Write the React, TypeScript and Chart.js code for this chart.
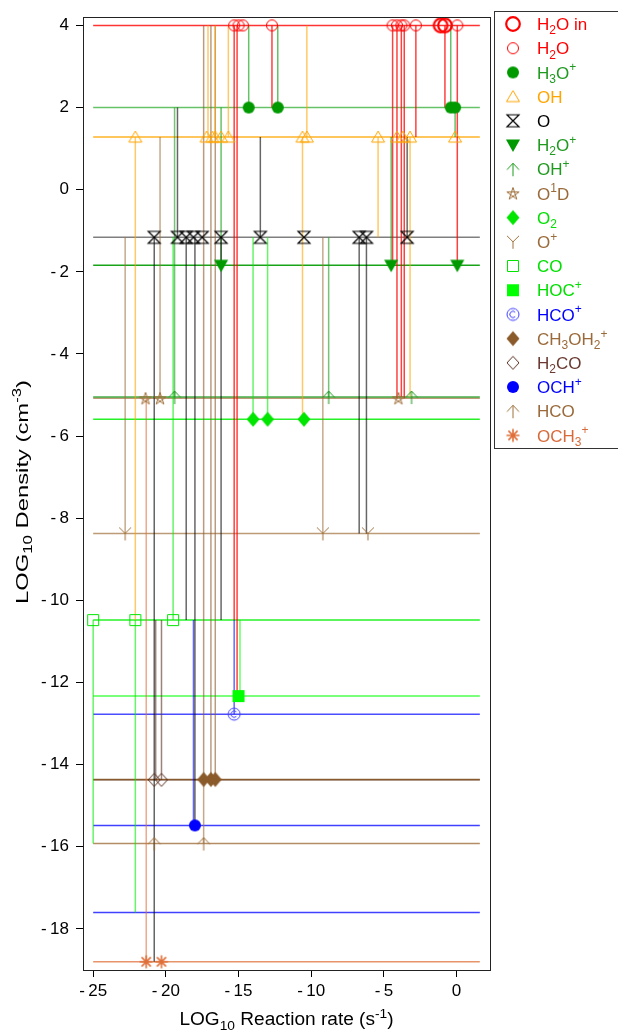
import React, { useEffect, useRef } from 'react';
import { Chart, registerables } from 'chart.js';
Chart.register(...registerables);

// ---------------- data ----------------
const speciesKeys = ['H2O in', 'H2O', 'H3O+', 'OH', 'O', 'H2O+', 'OH+', 'O1D', 'O2', 'O+', 'CO', 'HOC+', 'HCO+', 'CH3OH2+', 'H2CO', 'OCH+', 'HCO', 'OCH3+'];
const speciesLabels = ['H_2O in', 'H_2O', 'H_3O^+', 'OH', 'O', 'H_2O^+', 'OH^+', 'O^1D', 'O_2', 'O^+', 'CO', 'HOC^+', 'HCO^+', 'CH_3OH_2^+', 'H_2CO', 'OCH^+', 'HCO', 'OCH_3^+'];
const densityLevels = [4.0, 4.0, 2.0, 1.28, -1.16, -1.84, -5.05, -5.08, -5.59, -8.37, -10.48, -12.33, -12.77, -14.36, -14.37, -15.48, -15.92, -18.8];
const extraLevel = -17.6;
const rateSpan = [-25, 1.6];
const xTickValues = [-25, -20, -15, -10, -5, 0];
const yTickValues = [4, 2, 0, -2, -4, -6, -8, -10, -12, -14, -16, -18];

const ratesH2Oin = [-1.1, -0.8];
const ratesH2O = [-15.3, -15.0, -14.7, -12.7, -4.4, -4.1, -3.8, -3.6, -2.8, 0.05];
const ratesH3Op = [-14.3, -12.3, -0.4, -0.1];
const ratesOH = [-22.1, -17.2, -16.8, -16.6, -16.2, -15.7, -10.6, -10.3, -5.4, -4.1, -3.7, -3.2, -0.1];
const ratesO = [-20.8, -19.2, -18.6, -18.1, -17.5, -16.2, -13.5, -10.5, -6.7, -6.2, -3.4];
const ratesH2Op = [-16.2, -4.5, 0.05];
const ratesOHp = [-19.4, -8.8, -3.1];
const ratesO1D = [-21.4, -20.4, -4.0];
const ratesO2 = [-14.0, -13.0, -10.5];
const ratesOp = [-22.8, -9.2, -6.1];
const ratesCO = [-25.0, -22.1, -19.5];
const ratesHOCp = [-15.0];
const ratesHCOp = [-15.3];
const ratesCH3OH2p = [-17.4, -16.9, -16.6];
const ratesH2CO = [-20.8, -20.3];
const ratesOCHp = [-18.0];
const ratesHCO = [-20.8, -17.4];
const ratesOCH3p = [-21.35, -20.3];

const markerRates = [ratesH2Oin, ratesH2O, ratesH3Op, ratesOH, ratesO, ratesH2Op, ratesOHp, ratesO1D, ratesO2, ratesOp, ratesCO, ratesHOCp, ratesHCOp, ratesCH3OH2p, ratesH2CO, ratesOCHp, ratesHCO, ratesOCH3p];

const linkFrom = [
  'H2O in',
  'H2O', 'H2O', 'H2O', 'H2O', 'H2O', 'H2O', 'H2O', 'H2O', 'H2O',
  'H3O+', 'H3O+', 'H3O+', 'H3O+',
  'OH', 'OH', 'OH', 'OH', 'OH', 'OH', 'OH', 'OH',
  'O', 'O', 'O', 'O', 'O', 'O', 'O', 'O', 'O',
  'H2O+', 'H2O+',
  'OH+', 'OH+',
  'O1D',
  'O2', 'O2',
  'O+', 'O+',
  'CO', 'CO', 'CO',
  'HOC+', 'HCO+',
  'CH3OH2+', 'CH3OH2+', 'CH3OH2+',
  'H2CO', 'H2CO',
  'OCH+', 'HCO', 'OCH3+'];
const linkRate = [
  -0.8,
  -15.3, -15.1, -12.7, -4.4, -4.1, -3.8, -3.6, -2.8, 0.05,
  -14.3, -12.3, -0.4, -0.1,
  -22.1, -17.1, -16.6, -15.7, -10.3, -10.6, -5.4, -3.2,
  -20.8, -19.2, -18.6, -18.0, -16.2, -13.5, -6.7, -6.2, -3.4,
  -16.2, -4.5,
  -19.4, -8.8,
  -20.4,
  -14.0, -13.0,
  -22.8, -9.2,
  -25.0, -22.1, -19.5,
  -14.9, -15.3,
  -17.4, -16.9, -16.6,
  -20.7, -20.3,
  -18.1, -17.4, -21.35];
const linkTo = [
  'H3O+',
  'CO', 'HOC+', 'H3O+', 'H2O+', 'O1D', 'OH+', 'O1D', 'OH', 'H2O+',
  'H2O', 'H2O', 'H2O', 'OH',
  'CO', 'H2O', 'H2O', 'H2O', 'H2O', 'O2', 'O', 'OH+',
  'OCH3+', 'H3O+', 'CO', 'OCH+', 'CO', 'OH', 'O+', 'O+', 'OH',
  'H3O+', 'OH',
  'H3O+', 'O',
  'OH',
  'O', 'O',
  'O', 'O',
  'HCO', 'extra', 'O',
  'CO', 'CO',
  'H2O', 'H2O', 'H2O',
  'CO', 'CO',
  'CO', 'CH3OH2+', 'O1D'];

// ---------------- styles ----------------
const speciesColors = ['#ff0000', '#ff0000', '#009900', '#ffa500', '#000000', '#009900', '#1a991a', '#a0703c', '#00e600', '#a0703c', '#00e600', '#00ff00', '#4040ff', '#8b5a2b', '#5a3020', '#0000ff', '#a0703c', '#e0703a'];
const textColors = ['#ff0000', '#ff0000', '#1f9a1f', '#ffa500', '#000000', '#1f9a1f', '#1f9a1f', '#9a6a3a', '#00e000', '#9a6a3a', '#00e000', '#00e000', '#0000ff', '#9a6a3a', '#6a3a30', '#0000ff', '#9a6a3a', '#d86a3a'];
const lineColors = ['#ff0000', '#ff0000', '#009900', '#ffa500', '#000000', '#009900', '#1a991a', '#a0703c', '#00ee00', '#a0703c', '#00ee00', '#00ff00', '#0000ff', '#8b5a2b', '#5a3020', '#0000ff', '#a0703c', '#e0703a'];
const levelAlpha = [0, 0.8, 0.6, 0.85, 0.5, 0.9, 0.8, 0.7, 0.85, 0.7, 0.85, 0.7, 0.7, 0.9, 0.8, 0.75, 0.8, 0.75];
const markerKinds = ['bigCircle', 'circle', 'dot', 'tri', 'bowtie', 'triDown', 'arrow', 'star5', 'diamond', 'Y', 'square', 'squareFill', 'copyright', 'diamond', 'diamondOpen', 'dot', 'arrow', 'asterisk'];
const FONT = "'Liberation Sans', Arial, Helvetica, sans-serif";

function rgba(hex: string, a: number) {
  const n = parseInt(hex.slice(1), 16);
  return `rgba(${(n >> 16) & 255},${(n >> 8) & 255},${n & 255},${a})`;
}

function makeMarker(kind: string, color: string): HTMLCanvasElement {
  const s = 18;
  const c = document.createElement('canvas');
  c.width = s; c.height = s;
  const g = c.getContext('2d')!;
  g.translate(s / 2, s / 2);
  g.strokeStyle = color; g.fillStyle = color; g.lineWidth = 1;
  g.beginPath();
  switch (kind) {
    case 'bigCircle': g.lineWidth = 2.2; g.arc(0, 0, 6.8, 0, Math.PI * 2); g.stroke(); break;
    case 'circle': g.arc(0, 0, 5.5, 0, Math.PI * 2); g.stroke(); break;
    case 'dot': g.arc(0, 0, 6, 0, Math.PI * 2); g.fill(); break;
    case 'tri': g.moveTo(0, -6); g.lineTo(6.5, 5); g.lineTo(-6.5, 5); g.closePath(); g.stroke(); break;
    case 'triDown': g.moveTo(-7, -5.5); g.lineTo(7, -5.5); g.lineTo(0, 7); g.closePath(); g.fill(); break;
    case 'bowtie': g.lineWidth = 1.2; g.moveTo(-6, -6); g.lineTo(6, -6); g.lineTo(-6, 6); g.lineTo(6, 6); g.closePath(); g.stroke(); break;
    case 'arrow': g.moveTo(0, -6); g.lineTo(0, 7); g.moveTo(-6, 0.5); g.lineTo(0, -6); g.lineTo(6, 0.5); g.stroke(); break;
    case 'star5': {
      const pts: number[][] = [];
      for (let i = 0; i < 5; i++) { const a = -Math.PI / 2 + i * 2 * Math.PI / 5; pts.push([6.5 * Math.cos(a), 6.5 * Math.sin(a) + 0.5]); }
      const order = [0, 2, 4, 1, 3];
      g.moveTo(pts[0][0], pts[0][1]);
      for (let i = 1; i < 5; i++) g.lineTo(pts[order[i]][0], pts[order[i]][1]);
      g.closePath(); g.stroke(); break;
    }
    case 'diamond': g.moveTo(0, -7.5); g.lineTo(6.5, 0); g.lineTo(0, 7.5); g.lineTo(-6.5, 0); g.closePath(); g.fill(); break;
    case 'diamondOpen': g.moveTo(0, -6.5); g.lineTo(6, 0); g.lineTo(0, 6.5); g.lineTo(-6, 0); g.closePath(); g.stroke(); break;
    case 'Y': g.moveTo(0, 0); g.lineTo(0, 7); g.moveTo(-6, -6); g.lineTo(0, 0); g.lineTo(6, -6); g.stroke(); break;
    case 'square': g.rect(-5.5, -5.5, 11, 11); g.stroke(); break;
    case 'squareFill': g.rect(-6, -6, 12, 12); g.fill(); break;
    case 'copyright':
      g.arc(0, 0, 6, 0, Math.PI * 2); g.stroke();
      g.beginPath(); g.arc(0, 0, 3.2, Math.PI * 0.25, Math.PI * 1.75); g.stroke();
      break;
    case 'asterisk':
      g.lineWidth = 1.6;
      for (let i = 0; i < 4; i++) { const a = i * Math.PI / 4; g.moveTo(-6.5 * Math.cos(a), -6.5 * Math.sin(a)); g.lineTo(6.5 * Math.cos(a), 6.5 * Math.sin(a)); }
      g.stroke(); break;
  }
  return c;
}

type Seg = { t: string; m: number };
function parseRich(s: string): Seg[] {
  const segs: Seg[] = [];
  let buf = '';
  let i = 0;
  while (i < s.length) {
    const ch = s[i];
    if ((ch === '_' || ch === '^') && i + 1 < s.length) {
      if (buf) { segs.push({ t: buf, m: 0 }); buf = ''; }
      let t = '';
      if (s[i + 1] === '{') { const j = s.indexOf('}', i + 2); t = s.slice(i + 2, j); i = j + 1; }
      else { t = s[i + 1]; i += 2; }
      segs.push({ t, m: ch === '_' ? 1 : 2 });
    } else { buf += ch; i++; }
  }
  if (buf) segs.push({ t: buf, m: 0 });
  return segs;
}

function drawRich(ctx: CanvasRenderingContext2D, s: string, x: number, yMid: number, size: number, color: string, align: 'left' | 'center', stretch = 1) {
  const segs = parseRich(s);
  const small = Math.round(size * 0.7);
  let w = 0;
  for (const sg of segs) { ctx.font = `${sg.m ? small : size}px ${FONT}`; w += ctx.measureText(sg.t).width; }
  ctx.save();
  ctx.translate(x, yMid);
  ctx.scale(stretch, 1);
  let cx = align === 'center' ? -w / 2 : 0;
  const base = size * 0.36;
  ctx.fillStyle = color;
  ctx.textBaseline = 'alphabetic';
  ctx.textAlign = 'left';
  for (const sg of segs) {
    ctx.font = `${sg.m ? small : size}px ${FONT}`;
    const dy = sg.m === 1 ? size * 0.25 : sg.m === 2 ? -size * 0.42 : 0;
    ctx.fillText(sg.t, cx, base + dy);
    cx += ctx.measureText(sg.t).width;
  }
  ctx.restore();
}

function levelOf(key: string) {
  return key === 'extra' ? extraLevel : densityLevels[speciesKeys.indexOf(key)];
}

function fmtTick(v: number) {
  return v < 0 ? '-\u2009' + Math.abs(v) : String(v);
}

export default function App() {
  const ref = useRef<HTMLCanvasElement>(null);
  useEffect(() => {
    const markers = markerKinds.map((k, i) => makeMarker(k, speciesColors[i]));
    const datasets: any[] = [];
    // horizontal density levels
    speciesKeys.forEach((k, i) => {
      if (levelAlpha[i] === 0) return;
      datasets.push({
        type: 'line', data: rateSpan.map((x) => ({ x, y: densityLevels[i] })),
        borderColor: rgba(lineColors[i], levelAlpha[i]), borderWidth: 1.5, pointRadius: 0, order: 3,
      });
    });
    datasets.push({
      type: 'line', data: rateSpan.map((x) => ({ x, y: extraLevel })),
      borderColor: rgba('#0000ff', 0.75), borderWidth: 1.5, pointRadius: 0, order: 3,
    });
    // vertical reaction links
    speciesKeys.forEach((k, i) => {
      const pts: any[] = [];
      linkFrom.forEach((f, j) => {
        if (f !== k) return;
        pts.push({ x: linkRate[j], y: densityLevels[i] });
        pts.push({ x: linkRate[j], y: levelOf(linkTo[j]) });
        pts.push({ x: linkRate[j], y: null });
      });
      if (!pts.length) return;
      datasets.push({
        type: 'line', data: pts, spanGaps: false,
        borderColor: rgba(lineColors[i], k === 'H2O' || k === 'H2O in' ? 0.75 : 0.6), borderWidth: 1.5, pointRadius: 0, order: 2,
      });
    });
    // markers
    speciesKeys.forEach((k, i) => {
      datasets.push({
        type: 'scatter', data: markerRates[i].map((x) => ({ x, y: densityLevels[i] })),
        pointStyle: markers[i], pointRadius: 6, showLine: false, order: 1,
      });
    });

    const decor = {
      id: 'decor',
      afterDraw(chart: any) {
        const ctx = chart.ctx as CanvasRenderingContext2D;
        const a = chart.chartArea;
        ctx.save();
        ctx.strokeStyle = '#222';
        ctx.lineWidth = 1;
        ctx.strokeRect(Math.round(a.left) + 0.5, Math.round(a.top) + 0.5, Math.round(a.right - a.left), Math.round(a.bottom - a.top));
        // legend
        ctx.strokeStyle = '#333';
        ctx.strokeRect(494.5, 11.5, 130, 437);
        speciesKeys.forEach((k, i) => {
          const y = 24 + i * 24.2;
          const m = markers[i];
          ctx.drawImage(m, 513 - m.width / 2, y - m.height / 2);
          drawRich(ctx, speciesLabels[i], 537, y, 17, textColors[i], 'left');
        });
        // axis titles
        drawRich(ctx, 'LOG_{10} Reaction rate (s^{-1})', (a.left + a.right) / 2, 1019, 18, '#000', 'center', 1.06);
        ctx.translate(22, 492);
        ctx.rotate(-Math.PI / 2);
        drawRich(ctx, 'LOG_{10} Density (cm^{-3})', 0, 0, 17, '#000', 'center', 1.4);
        ctx.restore();
      },
    };

    const chart = new Chart(ref.current!, {
      type: 'scatter',
      data: { datasets },
      options: {
        animation: false,
        responsive: false,
        events: [],
        layout: { padding: { left: 0, right: 128, top: 12, bottom: 0 } },
        plugins: { legend: { display: false }, tooltip: { enabled: false } },
        scales: {
          x: {
            type: 'linear', min: -25.7, max: 2.3,
            afterBuildTicks: (s: any) => { s.ticks = xTickValues.map((v) => ({ value: v })); },
            afterFit: (s: any) => { s.height = 61; },
            grid: { drawOnChartArea: false, tickLength: 7, color: '#000' },
            border: { color: '#000', width: 1 },
            ticks: { color: '#000', font: { family: FONT, size: 17 }, padding: 4, maxRotation: 0, autoSkip: false, callback: (v: any) => fmtTick(Number(v)) },
          },
          y: {
            type: 'linear', min: -19, max: 4.2,
            afterBuildTicks: (s: any) => { s.ticks = yTickValues.map((v) => ({ value: v })); },
            afterFit: (s: any) => { s.width = 83; },
            grid: { drawOnChartArea: false, tickLength: 7, color: '#000' },
            border: { color: '#000', width: 1 },
            ticks: { color: '#000', font: { family: FONT, size: 17 }, padding: 7, autoSkip: false, callback: (v: any) => fmtTick(Number(v)) },
          },
        },
      },
      plugins: [decor],
    } as any);
    return () => chart.destroy();
  }, []);
  return (
    <div style={{ position: 'absolute', left: 0, top: 0, width: 618, height: 1031, background: '#fff' }}>
      <canvas ref={ref} width={618} height={1031} style={{ display: 'block', width: 618, height: 1031 }} />
    </div>
  );
}
